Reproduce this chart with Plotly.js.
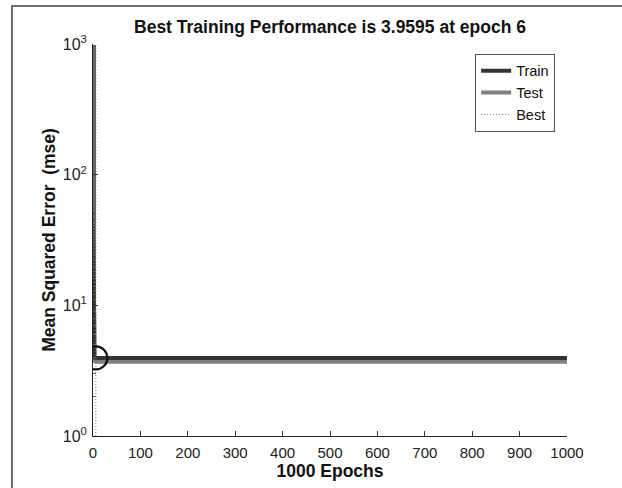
<!DOCTYPE html>
<html>
<head>
<meta charset="utf-8">
<script src="https://cdn.plot.ly/plotly-3.0.1.min.js"></script>
<style>html,body{margin:0;padding:0;background:#fff;}#chart{width:622px;height:488px;}</style>
</head>
<body>
<div id="chart"></div>
<script>
var epochs = [0, 1, 2, 3, 4, 5, 6, 100, 200, 300, 400, 500, 600, 700, 800, 900, 1000];
var trainMse = [118, 4.6, 4.1, 4.0, 3.98, 3.97, 3.9595, 3.9595, 3.9595, 3.9595, 3.9595, 3.9595, 3.9595, 3.9595, 3.9595, 3.9595, 3.9595];
var testMse = [125, 4.2, 3.8, 3.74, 3.72, 3.71, 3.70, 3.70, 3.70, 3.70, 3.70, 3.70, 3.70, 3.70, 3.70, 3.70, 3.70];
var bestEpoch = 6;
var bestPerf = 3.9595;
var bestLineY = [1, 1000];
var xTicks = [0, 100, 200, 300, 400, 500, 600, 700, 800, 900, 1000];
var yTicks = [1, 10, 100, 1000];
var yTickText = ['10<sup>0</sup>', '10<sup>1</sup>', '10<sup>2</sup>', '10<sup>3</sup>'];

var font = 'Liberation Sans, Arial, sans-serif';

var traces = [
  {x: epochs, y: testMse, mode: 'lines', name: 'Test', line: {color: '#808080', width: 4}, legendrank: 2},
  {x: epochs, y: trainMse, mode: 'lines', name: 'Train', line: {color: '#333333', width: 4}, legendrank: 1},
  {x: [bestEpoch, bestEpoch], y: bestLineY, mode: 'lines', name: 'Best', line: {color: '#777777', width: 1, dash: '1px,2px'}, legendrank: 3},
  {x: [bestEpoch], y: [bestPerf], mode: 'markers', showlegend: false,
   marker: {symbol: 'circle-open', size: 23, color: '#111111', line: {width: 2.2, color: '#111111'}}}
];

var layout = {
  width: 622, height: 488,
  margin: {l: 93, r: 55, t: 44, b: 52},
  paper_bgcolor: '#ffffff', plot_bgcolor: '#ffffff',
  font: {family: font, size: 13, color: '#222'},
  showlegend: true,
  title: {text: '<b>Best Training Performance is 3.9595 at epoch 6</b>', font: {family: font, size: 17.5, color: '#111'},
          x: 0.5, xref: 'paper', xanchor: 'center', y: 0.945, yref: 'container', yanchor: 'middle'},
  xaxis: {range: [0, 1000], tickvals: xTicks, ticks: 'inside', ticklen: 5, tickcolor: '#333',
          showline: true, linecolor: '#222', linewidth: 1, showgrid: false, zeroline: false, mirror: false,
          ticklabelstandoff: 3,
          tickfont: {family: font, size: 15, color: '#222'},
          title: {text: '<b>1000 Epochs</b>', font: {family: font, size: 17.5, color: '#111'}, standoff: 4}},
  yaxis: {type: 'log', range: [0, 3], tickvals: yTicks, ticktext: yTickText, ticks: 'inside', ticklen: 5, tickcolor: '#333',
          showline: true, linecolor: '#222', linewidth: 1, showgrid: false, zeroline: false,
          minor: {ticks: 'inside', ticklen: 3, tickcolor: '#666', showgrid: false},
          ticklabelstandoff: 2,
          tickfont: {family: font, size: 16, color: '#222'},
          title: {text: '<b>Mean Squared Error  (mse)</b>', font: {family: font, size: 17.5, color: '#111'}, standoff: 2}},
  legend: {x: 0.975, xanchor: 'right', y: 0.975, yanchor: 'top', bgcolor: '#ffffff', bordercolor: '#555', borderwidth: 1,
           font: {family: font, size: 14.5, color: '#111'}, tracegroupgap: 0, itemwidth: 30},
  shapes: [
    {type: 'rect', xref: 'paper', yref: 'paper', x0: -0.171, x1: 1.25, y0: -0.25, y1: 1.097,
     line: {color: '#444', width: 1.5}, fillcolor: 'rgba(0,0,0,0)', layer: 'below'}
  ]
};

Plotly.newPlot('chart', traces, layout, {displayModeBar: false, staticPlot: true});
</script>
</body>
</html>
